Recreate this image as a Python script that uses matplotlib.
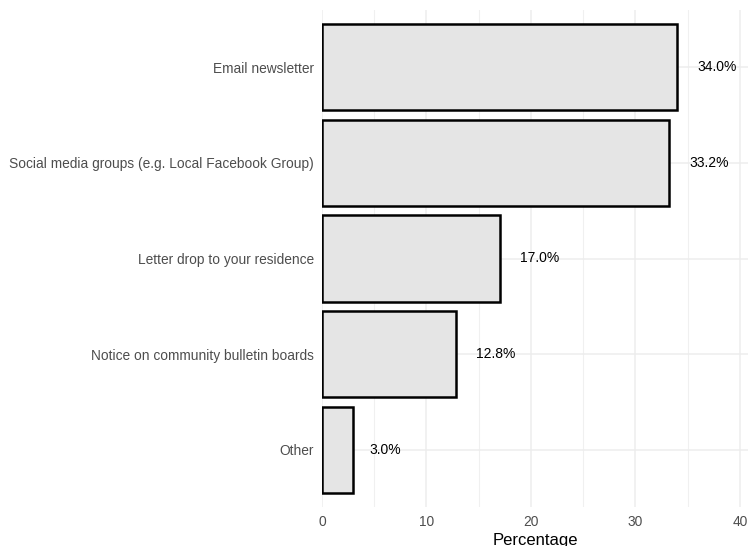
import matplotlib
matplotlib.use("Agg")
import matplotlib.pyplot as plt
from matplotlib.ticker import MultipleLocator

plt.rcParams['font.family'] = ['Liberation Sans', 'DejaVu Sans']

categories = ['Email newsletter',
              'Social media groups (e.g. Local Facebook Group)',
              'Letter drop to your residence',
              'Notice on community bulletin boards',
              'Other']
values = [34.0, 33.2, 17.0, 12.8, 3.0]
labels = ['%.1f%%' % v for v in values]

fig = plt.figure(figsize=(7.49, 5.46), dpi=100)
ax = fig.add_axes([322 / 749, 1 - 507 / 546, 426 / 749, 497 / 546])

ypos = list(range(len(categories)))[::-1]
ax.barh(ypos, values, height=0.9, color='#E5E5E5', edgecolor='black',
        linewidth=1.8, zorder=3)

for y, v, lab in zip(ypos, values, labels):
    # hjust = -0.5 : shift by half of the text width
    ax.annotate(lab, (v, y), xytext=(len(lab) * 2.9, 0),
                textcoords='offset points', ha='left', va='center',
                fontsize=10, color='black', zorder=4)

ax.set_xlim(0, 40.77)
ax.set_ylim(-0.6, len(categories) - 0.4)
ax.set_yticks(ypos)
ax.set_yticklabels(categories)
ax.xaxis.set_major_locator(MultipleLocator(10))
ax.xaxis.set_minor_locator(MultipleLocator(5))

ax.grid(True, which='major', color='#EDEDED', linewidth=1.1, zorder=0)
ax.grid(True, which='minor', axis='x', color='#F0F0F0', linewidth=0.8, zorder=0)
ax.set_axisbelow(True)

for s in ax.spines.values():
    s.set_visible(False)
ax.tick_params(axis='both', which='both', length=0, labelsize=9.9,
               labelcolor='#4D4D4D')
ax.tick_params(axis='y', pad=6)
ax.tick_params(axis='x', pad=6)

ax.set_xlabel('Percentage', fontsize=12, color='black', labelpad=3)

fig.savefig('out.png', dpi=100)
